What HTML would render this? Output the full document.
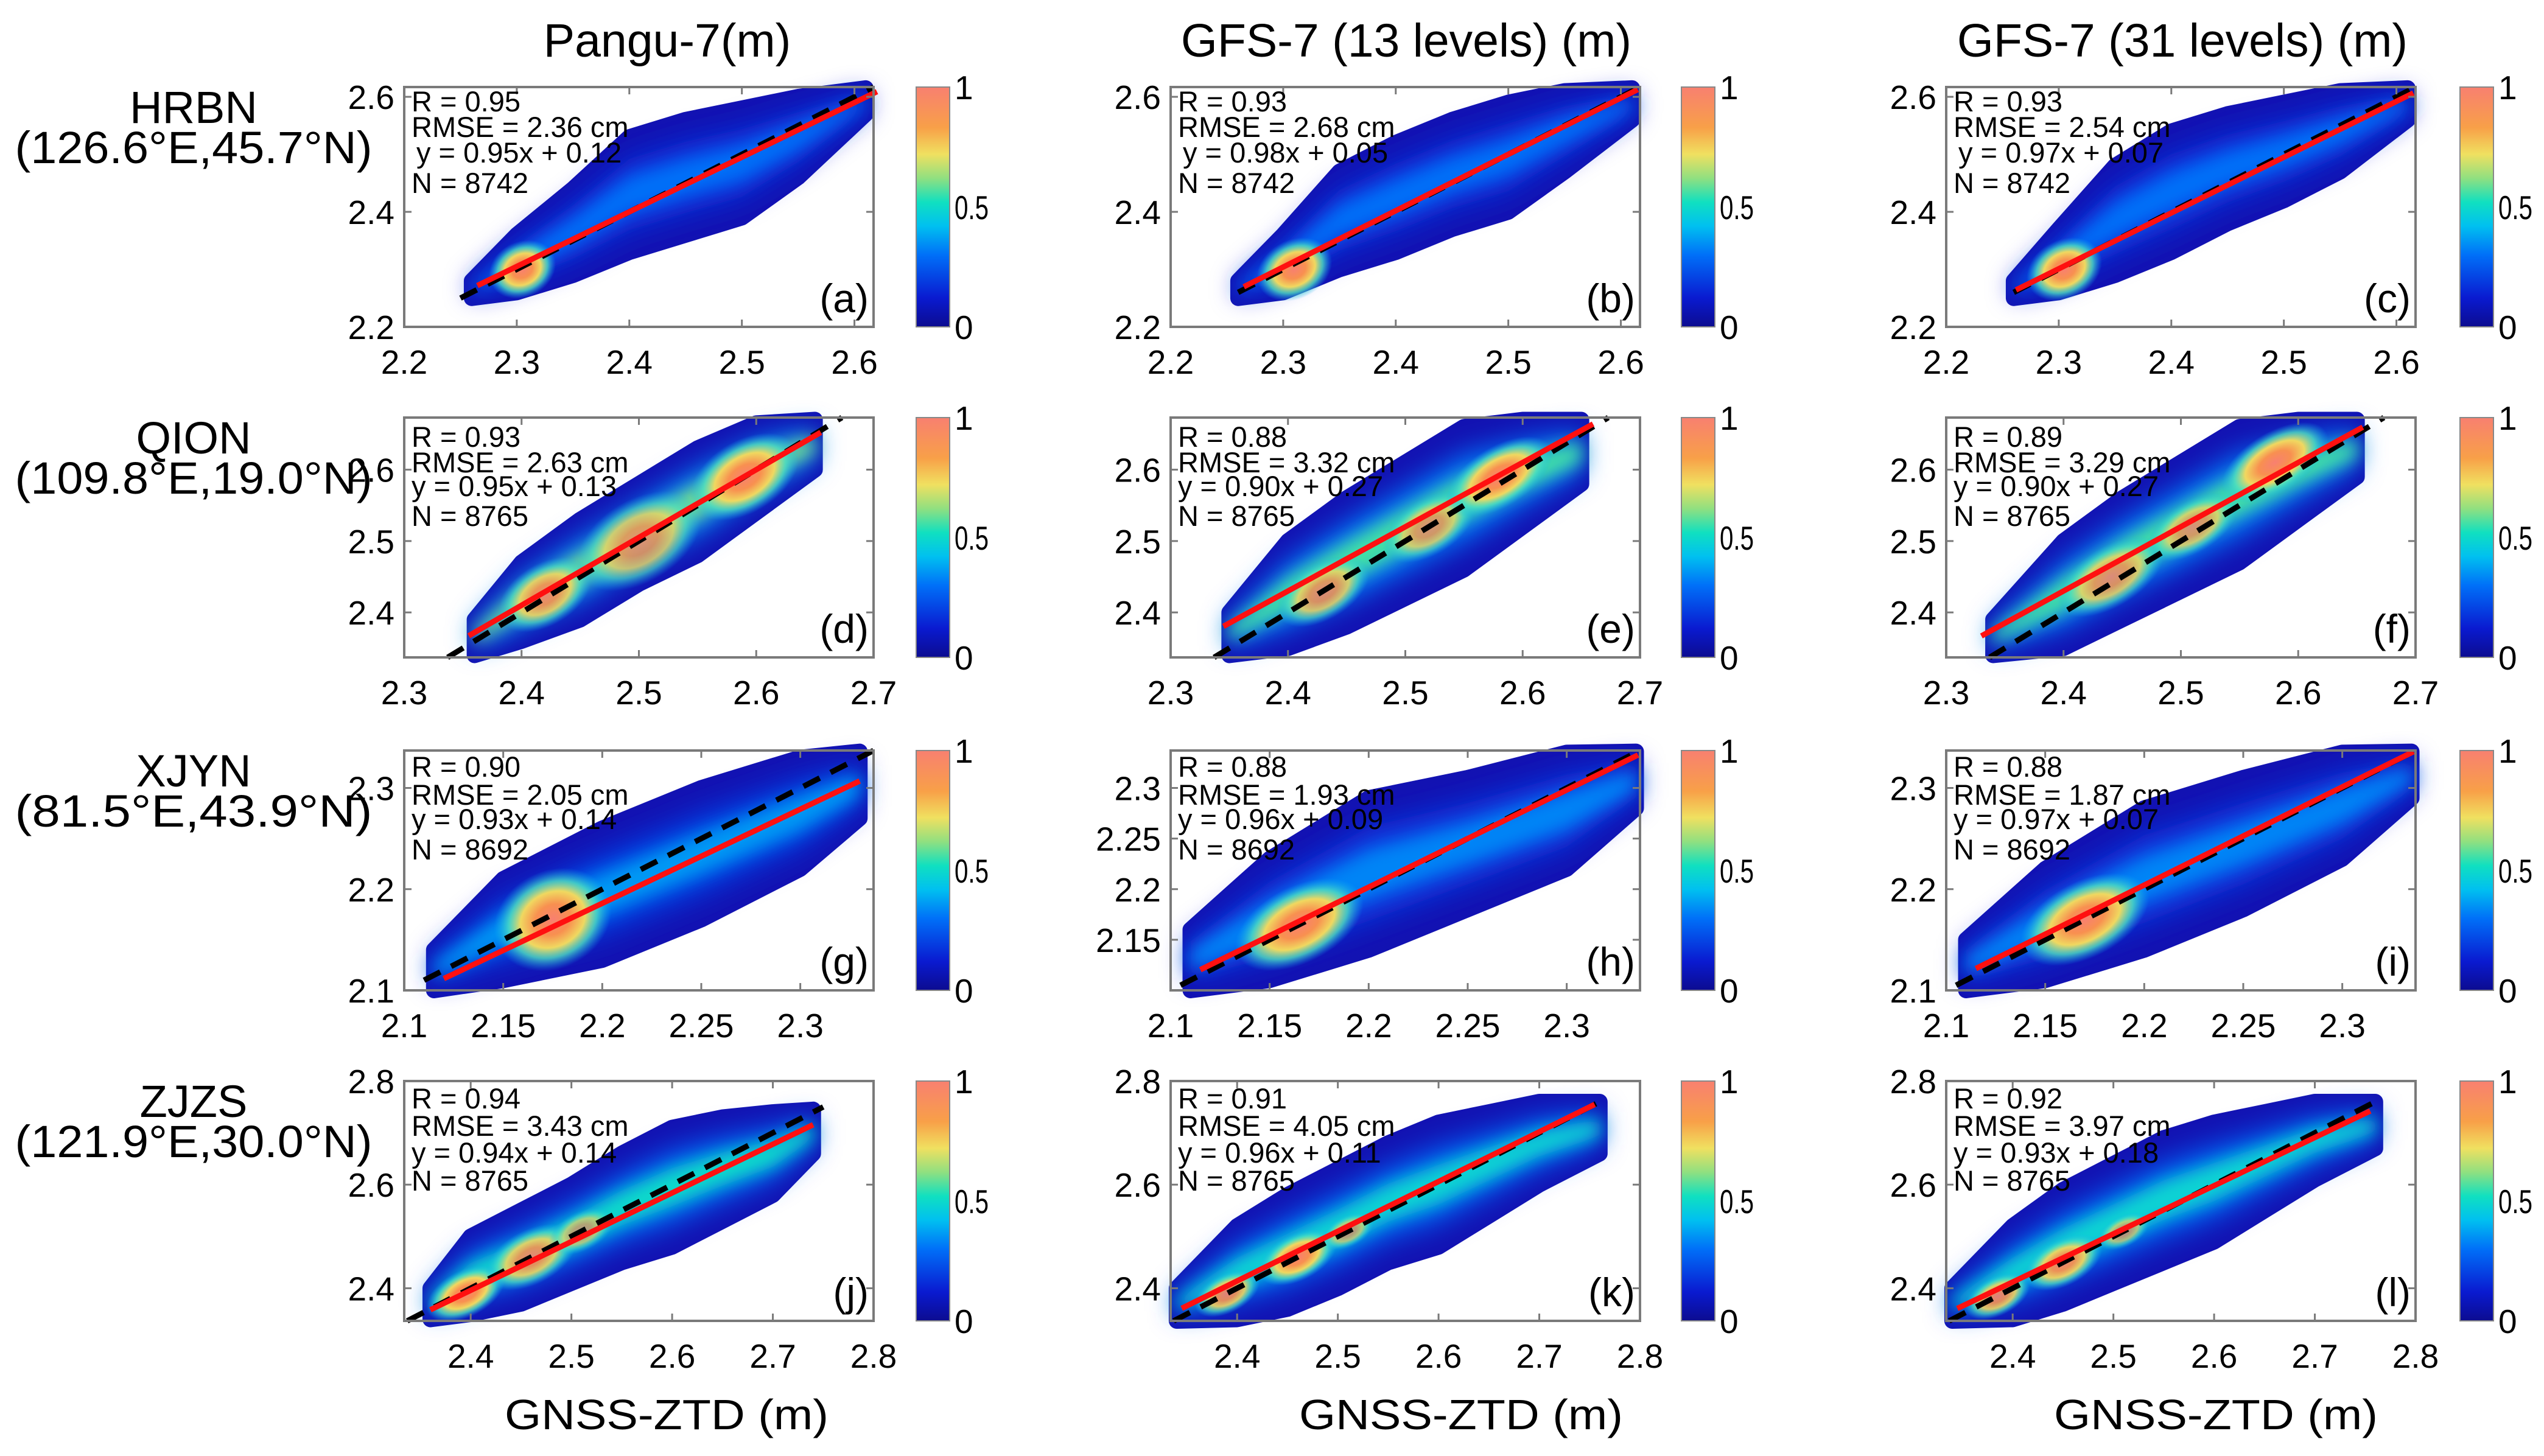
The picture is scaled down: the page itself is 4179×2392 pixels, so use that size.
<!DOCTYPE html>
<html><head><meta charset="utf-8"><style>
html,body{margin:0;padding:0;background:#fff;overflow:hidden}
svg{display:block}
text{font-family:"Liberation Sans",Arial,sans-serif;fill:#000}
</style></head><body>
<svg id="fig" xmlns="http://www.w3.org/2000/svg" width="4179" height="2392" viewBox="0 0 4179 2392">
<defs>
<linearGradient id="cbgrad" x1="0" y1="1" x2="0" y2="0">
<stop offset="0" stop-color="#0c0c90"/><stop offset="0.12" stop-color="#0a1ad0"/><stop offset="0.3" stop-color="#0070f8"/><stop offset="0.42" stop-color="#00c0f0"/><stop offset="0.52" stop-color="#10e0c0"/><stop offset="0.62" stop-color="#90e080"/><stop offset="0.72" stop-color="#f0e060"/><stop offset="0.83" stop-color="#f8a048"/><stop offset="1" stop-color="#f88070"/>
</linearGradient>
<radialGradient id="hot">
<stop offset="0" stop-color="#f88070"/><stop offset="0.3" stop-color="#f89050"/><stop offset="0.55" stop-color="#f0d860"/><stop offset="0.75" stop-color="#50e0c0" stop-opacity="0.8"/><stop offset="1" stop-color="#10b0f0" stop-opacity="0"/>
</radialGradient>
<filter id="blur1" x="-30%" y="-30%" width="160%" height="160%"><feGaussianBlur stdDeviation="22"/></filter>
<filter id="blur2" x="-30%" y="-30%" width="160%" height="160%"><feGaussianBlur stdDeviation="14"/></filter>
</defs>
</svg>
<script>
const colTitles=["Pangu-7(m)","GFS-7 (13 levels) (m)","GFS-7 (31 levels) (m)"];
const stationNames=["HRBN","QION","XJYN","ZJZS"];
const stationCoords=["(126.6°E,45.7°N)","(109.8°E,19.0°N)","(81.5°E,43.9°N)","(121.9°E,30.0°N)"];
const rowXDomain=[[2.2,2.617],[2.3,2.7],[2.1,2.337],[2.334,2.8]];
const rowYDomain=[[2.2,2.617],[2.337,2.673],[2.1,2.337],[2.337,2.8]];
const rowXTicks=[[2.2,2.3,2.4,2.5,2.6],[2.3,2.4,2.5,2.6,2.7],[2.1,2.15,2.2,2.25,2.3],[2.4,2.5,2.6,2.7,2.8]];
const panelYTicks=[[2.2,2.4,2.6],[2.2,2.4,2.6],[2.2,2.4,2.6],[2.4,2.5,2.6],[2.4,2.5,2.6],[2.4,2.5,2.6],[2.1,2.2,2.3],[2.15,2.2,2.25,2.3],[2.1,2.2,2.3],[2.4,2.6,2.8],[2.4,2.6,2.8],[2.4,2.6,2.8]];
const panelLetters=["a","b","c","d","e","f","g","h","i","j","k","l"];
const statR=["0.95","0.93","0.93","0.93","0.88","0.89","0.90","0.88","0.88","0.94","0.91","0.92"];
const statRMSE=["2.36","2.68","2.54","2.63","3.32","3.29","2.05","1.93","1.87","3.43","4.05","3.97"];
const fitSlope=[0.95,0.98,0.97,0.95,0.90,0.90,0.93,0.96,0.97,0.94,0.96,0.93];
const fitIntercept=[0.12,0.05,0.07,0.13,0.27,0.27,0.14,0.09,0.07,0.14,0.11,0.18];
const statN=["8742","8742","8742","8765","8765","8765","8692","8692","8692","8765","8765","8765"];
const fitXStart=[2.265,2.265,2.262,2.355,2.345,2.33,2.12,2.115,2.115,2.36,2.345,2.345];
const fitXEnd=[2.62,2.615,2.615,2.655,2.66,2.655,2.33,2.336,2.336,2.74,2.755,2.755];
const dashXStart=[2.25,2.26,2.26,2.337,2.337,2.337,2.11,2.105,2.105,2.337,2.337,2.337];
const dashXEnd=[2.617,2.617,2.617,2.673,2.673,2.673,2.337,2.337,2.337,2.75,2.76,2.76];
const bandLevel=[0.3,0.3,0.3,0.6,0.56,0.56,0.36,0.33,0.33,0.5,0.48,0.48];
const envelopes=[
[[2.26,2.25,2.28],[2.30,2.26,2.36],[2.35,2.29,2.44],[2.40,2.33,2.53],[2.45,2.36,2.56],[2.50,2.39,2.58],[2.55,2.46,2.60],[2.61,2.57,2.615]],
[[2.26,2.25,2.28],[2.30,2.26,2.36],[2.35,2.30,2.47],[2.40,2.33,2.52],[2.45,2.37,2.56],[2.50,2.40,2.59],[2.55,2.47,2.61],[2.61,2.56,2.615]],
[[2.26,2.25,2.28],[2.30,2.26,2.37],[2.35,2.29,2.48],[2.40,2.33,2.54],[2.45,2.38,2.57],[2.50,2.42,2.59],[2.55,2.47,2.61],[2.61,2.56,2.615]],
[[2.36,2.34,2.39],[2.40,2.36,2.47],[2.45,2.39,2.53],[2.50,2.44,2.58],[2.55,2.48,2.63],[2.60,2.54,2.665],[2.65,2.60,2.67]],
[[2.35,2.34,2.40],[2.40,2.35,2.50],[2.45,2.38,2.56],[2.50,2.42,2.61],[2.55,2.46,2.66],[2.60,2.52,2.67],[2.65,2.58,2.67]],
[[2.34,2.34,2.39],[2.40,2.35,2.50],[2.45,2.39,2.56],[2.50,2.43,2.61],[2.55,2.47,2.66],[2.60,2.53,2.67],[2.65,2.59,2.67]],
[[2.115,2.10,2.14],[2.15,2.11,2.21],[2.20,2.13,2.26],[2.25,2.17,2.30],[2.30,2.22,2.33],[2.33,2.27,2.336]],
[[2.11,2.10,2.16],[2.15,2.11,2.23],[2.20,2.14,2.29],[2.25,2.18,2.31],[2.30,2.22,2.335],[2.335,2.28,2.336]],
[[2.11,2.10,2.15],[2.15,2.11,2.22],[2.20,2.14,2.28],[2.25,2.18,2.31],[2.30,2.23,2.335],[2.335,2.29,2.336]],
[[2.36,2.34,2.40],[2.40,2.35,2.50],[2.45,2.37,2.55],[2.50,2.41,2.60],[2.55,2.45,2.66],[2.60,2.48,2.71],[2.65,2.53,2.73],[2.70,2.58,2.74],[2.74,2.66,2.745]],
[[2.34,2.337,2.40],[2.40,2.34,2.52],[2.45,2.36,2.58],[2.50,2.40,2.63],[2.55,2.45,2.68],[2.60,2.48,2.72],[2.65,2.54,2.74],[2.70,2.60,2.76],[2.76,2.66,2.76]],
[[2.34,2.337,2.40],[2.40,2.34,2.52],[2.45,2.37,2.59],[2.50,2.41,2.64],[2.55,2.45,2.69],[2.60,2.49,2.72],[2.65,2.55,2.74],[2.70,2.61,2.76],[2.76,2.67,2.76]]
];
const hotspots=[
[[2.305,2.30,0.022,0.8,1.0]],
[[2.31,2.30,0.025,0.75,1.0]],
[[2.305,2.30,0.025,0.75,1.0]],
[[2.42,2.425,0.03,0.6,0.9],[2.50,2.50,0.04,0.6,0.8],[2.59,2.59,0.035,0.6,1.0]],
[[2.43,2.43,0.03,0.55,0.85],[2.52,2.52,0.03,0.55,0.8],[2.58,2.59,0.035,0.5,1.0]],
[[2.44,2.45,0.035,0.5,0.85],[2.51,2.52,0.03,0.5,0.8],[2.58,2.61,0.035,0.5,1.0]],
[[2.175,2.17,0.022,0.8,1.0]],
[[2.165,2.165,0.025,0.55,1.0]],
[[2.17,2.17,0.025,0.55,1.0]],
[[2.395,2.39,0.03,0.55,1.0],[2.46,2.46,0.035,0.55,0.9],[2.51,2.51,0.025,0.55,0.7]],
[[2.39,2.39,0.025,0.55,0.9],[2.46,2.46,0.03,0.55,1.0],[2.51,2.51,0.02,0.55,0.7]],
[[2.385,2.385,0.025,0.55,0.9],[2.45,2.45,0.03,0.55,0.95],[2.51,2.51,0.02,0.55,0.7]]
];
const cbTickVals=[0,0.5,1];
const cbTickLabels=["0","0.5","1"];

const NS="http://www.w3.org/2000/svg";
const svg=document.getElementById('fig');
const boxX=[664,1923,3197], boxW=771, cbX=[1505,2762,4041], cbW=55;
const boxY=[143,686,1233,1776], boxH=394;
const titleX=[1096,2310,3585], xTitleX=[1095,2400,3640];
const cmapStops=[[0,[12,12,144]],[0.12,[10,26,208]],[0.3,[0,112,248]],[0.42,[0,192,240]],[0.52,[16,224,192]],[0.62,[144,224,128]],[0.72,[240,224,96]],[0.83,[248,160,72]],[1,[248,128,112]]];
function cmap(v){for(let i=1;i<cmapStops.length;i++){if(v<=cmapStops[i][0]){const a=cmapStops[i-1],b=cmapStops[i];const t=(v-a[0])/(b[0]-a[0]);const c=a[1].map((q,k)=>Math.round(q+(b[1][k]-q)*t));return 'rgb('+c.join(',')+')';}}return 'rgb(248,128,112)';}
function mk(tag,attrs,parent){const e=document.createElementNS(NS,tag);for(const k in attrs)e.setAttribute(k,attrs[k]);(parent||svg).appendChild(e);return e;}
function txt(s,attrs,parent){const e=mk('text',attrs,parent);e.textContent=s;return e;}

colTitles.forEach((t,c)=>{const e=txt(t,{x:titleX[c],y:93,'font-size':77,'text-anchor':'middle'});

});
stationNames.forEach((n,r)=>{const g=mk('g',{});


txt(n,{x:318,y:boxY[r]+59,'font-size':74,'text-anchor':'middle'},g);
txt(stationCoords[r],{x:318,y:boxY[r]+125,'font-size':74,'text-anchor':'middle',textLength:587,lengthAdjust:'spacingAndGlyphs'},g);});
for(let c=0;c<3;c++){const e=txt("GNSS-ZTD (m)",{x:xTitleX[c],y:2348,'font-size':70,'text-anchor':'middle',textLength:532,lengthAdjust:'spacingAndGlyphs'});

}

for(let p=0;p<12;p++){
 const r=Math.floor(p/3), c=p%3;
 const X0=boxX[c], Y0=boxY[r];
 const xd=rowXDomain[r], yd=rowYDomain[r];
 const sx=v=>X0+(v-xd[0])/(xd[1]-xd[0])*boxW;
 const sy=v=>Y0+boxH-(v-yd[0])/(yd[1]-yd[0])*boxH;
 const g=mk('g',{});
 
 
 const env=envelopes[p];
 const pts=env.map(e=>[sx(e[0]),sy(e[2])]).concat(env.slice().reverse().map(e=>[sx(e[0]),sy(e[1])]));
 const cloud=mk('polygon',{points:pts.map(q=>q.join(',')).join(' '),fill:'#1212b2',stroke:'#1212b2','stroke-width':26,'stroke-linejoin':'round'},g);
 
 
 [[0.62,0.55,'blur1'],[0.32,1.0,'blur2']].forEach(([f,lv,fl])=>{
  const up=env.map(e=>{const m=(e[1]+e[2])/2,h=(e[2]-e[1])/2;return [sx(e[0]),sy(m+h*f)];});
  const lo=env.slice().reverse().map(e=>{const m=(e[1]+e[2])/2,h=(e[2]-e[1])/2;return [sx(e[0]),sy(m-h*f)];});
  const b=mk('polygon',{points:up.concat(lo).map(q=>q.join(',')).join(' '),fill:cmap(bandLevel[p]*lv),filter:'url(#'+fl+')'},g);
  
  
 });
 hotspots[p].forEach(h=>{
  const x1=sx(h[0]-h[2]),y1=sy(h[1]-h[2]),x2=sx(h[0]+h[2]),y2=sy(h[1]+h[2]);
  const rx=Math.hypot(x2-x1,y2-y1)/2, ang=Math.atan2(y2-y1,x2-x1)*180/Math.PI;
  const cx=sx(h[0]),cy=sy(h[1]);
  const el=mk('ellipse',{cx:cx,cy:cy,rx:rx*1.25,ry:rx*h[3]*1.25,fill:'url(#hot)',opacity:h[4],transform:'rotate('+ang+' '+cx+' '+cy+')'},g);
  
  
 });
 const dl=mk('line',{x1:sx(dashXStart[p]),y1:sy(dashXStart[p]),x2:sx(dashXEnd[p]),y2:sy(dashXEnd[p]),stroke:'#000','stroke-width':9,'stroke-dasharray':'30 20'},g);
 
 
 const fl=mk('line',{x1:sx(fitXStart[p]),y1:sy(fitSlope[p]*fitXStart[p]+fitIntercept[p]),x2:sx(fitXEnd[p]),y2:sy(fitSlope[p]*fitXEnd[p]+fitIntercept[p]),stroke:'#ff1010','stroke-width':9},g);
 
 
 const bx=mk('rect',{x:X0,y:Y0,width:boxW,height:boxH,fill:'none',stroke:'#7a7a7a','stroke-width':4},g);
 
 
 rowXTicks[r].forEach(v=>{
  const x=sx(v);
  mk('line',{x1:x,y1:Y0+boxH,x2:x,y2:Y0+boxH-12,stroke:'#7a7a7a','stroke-width':3},g);
  mk('line',{x1:x,y1:Y0,x2:x,y2:Y0+12,stroke:'#7a7a7a','stroke-width':3},g);
  const t=txt(String(v),{x:x,y:Y0+boxH+77,'font-size':55,'text-anchor':'middle'},g);
  
  
 });
 panelYTicks[p].forEach(v=>{
  const y=sy(v);
  mk('line',{x1:X0,y1:y,x2:X0+12,y2:y,stroke:'#7a7a7a','stroke-width':3},g);
  mk('line',{x1:X0+boxW,y1:y,x2:X0+boxW-12,y2:y,stroke:'#7a7a7a','stroke-width':3},g);
  const t=txt(String(v),{x:X0-16,y:y+20,'font-size':55,'text-anchor':'end'},g);
  
  
 });
 const annBase=[[40,82,124,174],[48,90,129,178],[43,89,129,179],[45,90,134,180]][r];
 const lines=["R = "+statR[p],"RMSE = "+statRMSE[p]+" cm","y = "+fitSlope[p].toFixed(2)+"x + "+fitIntercept[p].toFixed(2),"N = "+statN[p]];
 const ag=mk('g',{},g);
 
 
 lines.forEach((s,i)=>txt(s,{x:X0+12+(i==2&&r==0?8:0),y:Y0+annBase[i],'font-size':47},ag));
 const pl=txt('('+panelLetters[p]+')',{x:X0+boxW-8,y:Y0+boxH-24,'font-size':66,'text-anchor':'end'},g);
 
 
 const cg=mk('g',{});
 
 
 mk('rect',{x:cbX[c],y:Y0,width:cbW,height:boxH,fill:'url(#cbgrad)',stroke:'#888','stroke-width':2},cg);
 cbTickVals.forEach((v,i)=>{
  const y=Y0+boxH-v*boxH;
  const a={x:cbX[c]+cbW+8,y:y+20,'font-size':55};
  if(cbTickLabels[i].length>1){a.textLength=56;a.lengthAdjust='spacingAndGlyphs';}
  txt(cbTickLabels[i],a,cg);
 });
}
</script>
</body></html>
